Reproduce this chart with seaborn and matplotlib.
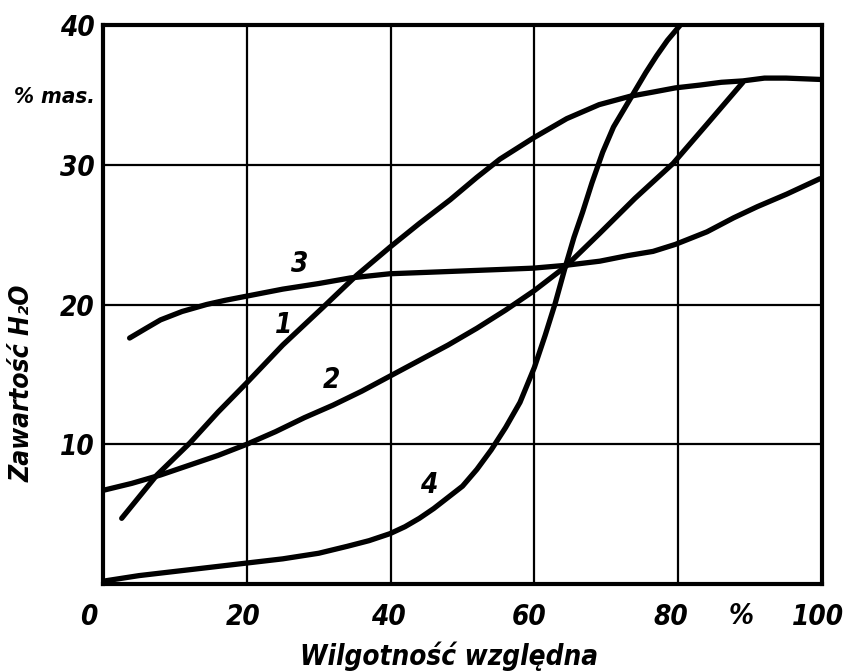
import matplotlib
matplotlib.use("Agg")
import matplotlib.pyplot as plt
import matplotlib.transforms as mtransforms
import seaborn as sns
import pandas as pd

# ---- data ----
c1_x = [2.6, 7.5, 12.1, 16, 20, 25, 30.6, 35.3, 39.9, 44, 48.3, 52, 55.2, 59.8, 64.5, 69, 73.3, 76.5, 79.6, 83, 86, 89, 92, 95, 100]
c1_y = [4.7, 7.8, 10.1, 12.3, 14.4, 17.1, 19.8, 22.1, 24.1, 25.8, 27.5, 29.1, 30.4, 31.9, 33.3, 34.3, 34.9, 35.2, 35.5, 35.7, 35.9, 36.0, 36.2, 36.2, 36.1]

c2_x = [0, 4, 8, 12, 16, 20, 24, 28, 32, 36, 40, 44, 48, 52, 56, 60, 64.3, 69.1, 74, 79.3, 84, 89]
c2_y = [6.7, 7.2, 7.8, 8.5, 9.2, 10.0, 10.9, 11.9, 12.8, 13.8, 14.9, 16.0, 17.1, 18.3, 19.6, 21.0, 22.7, 25.1, 27.6, 30.1, 32.9, 35.9]

c3_x = [3.7, 6, 8, 11, 14.4, 17, 20, 25, 30, 34.4, 39.9, 45, 50, 55, 59.8, 64.3, 69.1, 73, 76.5, 79.6, 84, 87.7, 91, 95.1, 99.7]
c3_y = [17.6, 18.3, 18.9, 19.5, 20.0, 20.3, 20.6, 21.1, 21.5, 21.9, 22.2, 22.3, 22.4, 22.5, 22.6, 22.8, 23.1, 23.5, 23.8, 24.3, 25.2, 26.2, 27.0, 27.9, 29.0]

c4_x = [0, 5, 10, 15, 20, 25, 30, 34, 37, 39.9, 42, 44, 46, 48, 50, 52, 54, 56, 58, 60, 61.5, 62.9, 64.3, 65.5, 66.7, 68, 69.5, 71, 72.5, 74, 75.5, 77, 78.5, 80.3]
c4_y = [0.2, 0.6, 0.9, 1.2, 1.5, 1.8, 2.2, 2.7, 3.1, 3.6, 4.1, 4.7, 5.4, 6.2, 7.0, 8.2, 9.6, 11.2, 13.0, 15.5, 17.8, 20.1, 22.7, 24.8, 26.6, 28.7, 30.9, 32.7, 34.0, 35.3, 36.6, 37.8, 38.9, 40.0]

curve_names = ["1", "2", "3", "4"]
label_x = [25.1, 31.8, 27.4, 45.3]
label_y = [18.5, 14.6, 22.9, 7.1]

x_ticks = [0, 20, 40, 60, 80, 100]
x_tick_labels = ["0", "20", "40", "60", "80", "100"]
y_ticks = [10, 20, 30, 35, 40]
y_tick_labels = ["10", "20", "30", "% mas.", "40"]
x_grid = [20, 40, 60, 80]
y_grid = [10, 20, 30]

x_label = "Wilgotność względna"
y_label = "Zawartość H₂O"
x_unit = "%"

# ---- plotting ----
sns.set_style("white")
FAM = ["DejaVu Sans"]
plt.rcParams["font.family"] = FAM
plt.rcParams["font.stretch"] = "condensed"
plt.rcParams["text.color"] = "black"
plt.rcParams["xtick.color"] = "black"
plt.rcParams["ytick.color"] = "black"

fig = plt.figure(figsize=(8.45, 6.71), dpi=100)
ax = fig.add_axes([103/845, 1 - 584/671, (822 - 103)/845, (584 - 25)/671])

frames = []
for name, xs, ys in zip(curve_names, [c1_x, c2_x, c3_x, c4_x], [c1_y, c2_y, c3_y, c4_y]):
    frames.append(pd.DataFrame({"x": xs, "y": ys, "curve": name}))
df = pd.concat(frames, ignore_index=True)

for name in curve_names:
    sub = df[df["curve"] == name]
    sns.lineplot(data=sub, x="x", y="y", sort=False, color="black", lw=3.8,
                 ax=ax, solid_capstyle="round", solid_joinstyle="round", zorder=3)

ax.set_xlim(0, 100)
ax.set_ylim(0, 40)

for gx in x_grid:
    ax.axvline(gx, color="black", lw=1.6, zorder=1)
for gy in y_grid:
    ax.axhline(gy, color="black", lw=1.6, zorder=1)

tick_font = dict(family=FAM, style="italic", weight="bold", size=20, stretch="condensed")
ax.set_xticks(x_ticks)
ax.set_xticklabels(x_tick_labels, **tick_font)
ax.set_yticks(y_ticks)
ax.set_yticklabels(y_tick_labels, **tick_font)
for t in ax.get_yticklabels():
    if t.get_text().startswith("%"):
        t.set_fontsize(16)
ax.tick_params(axis="x", length=0, pad=14)
ax.tick_params(axis="y", length=0, pad=6)
ax.grid(False)

# small leftward shifts of the x tick labels, as in the reference lettering
shifts = {"0": -14, "20": -4, "40": -2, "60": -5, "80": -7, "100": -4}
for t in ax.get_xticklabels():
    dx = shifts.get(t.get_text(), 0)
    t.set_transform(t.get_transform() + mtransforms.ScaledTranslation(dx / 100, 0, fig.dpi_scale_trans))

for s in ax.spines.values():
    s.set_visible(True)
    s.set_color("black")
    s.set_linewidth(3)

for name, lx, ly in zip(curve_names, label_x, label_y):
    ax.text(lx, ly, name, ha="center", va="center", **tick_font)

ax.text(88.7, -0.057, x_unit, transform=ax.get_xaxis_transform(), ha="center", va="center",
        **tick_font)

fig.text(300/845, 1 - 665/671, x_label, ha="left", va="baseline",
         family=FAM, style="italic", weight="bold", size=20, stretch="condensed")
fig.text(23/845, 1 - 383/671, y_label, ha="center", va="center", rotation=90,
         family=FAM, style="italic", weight="bold", size=19, stretch="condensed")

ax.set_xlabel("")
ax.set_ylabel("")
fig.savefig("out.png", dpi=100)
